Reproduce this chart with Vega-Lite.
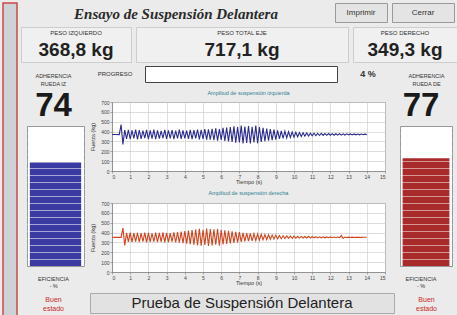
{
"$schema":"https://vega.github.io/schema/vega-lite/v6.json",
"background":"#ebebeb",
"padding":{"left":2,"top":2,"right":2,"bottom":0},
"datasets":{"signal":[
{"t":0,"l":370,"r":352},{"t":0.2,"l":371,"r":351},{"t":0.4,"l":369,"r":353},
{"t":0.5,"l":470,"r":352},{"t":0.6,"l":270,"r":445},{"t":0.7,"l":415,"r":270},{"t":0.8,"l":326,"r":396},{"t":0.9,"l":418,"r":306},{"t":1.0,"l":322,"r":399},{"t":1.1,"l":412,"r":303},{"t":1.2,"l":330,"r":394},{"t":1.3,"l":420,"r":309},{"t":1.4,"l":321,"r":398},
{"t":1.5,"l":414,"r":302},{"t":1.6,"l":327,"r":395},{"t":1.7,"l":410,"r":307},{"t":1.8,"l":333,"r":400},{"t":1.9,"l":417,"r":301},{"t":2.0,"l":324,"r":397},{"t":2.1,"l":411,"r":305},{"t":2.2,"l":329,"r":393},{"t":2.3,"l":419,"r":308},{"t":2.4,"l":322,"r":399},
{"t":2.5,"l":413,"r":304},{"t":2.6,"l":328,"r":396},{"t":2.7,"l":408,"r":306},{"t":2.8,"l":334,"r":401},{"t":2.9,"l":418,"r":300},{"t":3.0,"l":326,"r":398},{"t":3.1,"l":412,"r":304},{"t":3.2,"l":331,"r":395},{"t":3.3,"l":416,"r":309},{"t":3.4,"l":323,"r":402},
{"t":3.5,"l":410,"r":299},{"t":3.6,"l":330,"r":404},{"t":3.7,"l":419,"r":297},{"t":3.8,"l":325,"r":410},{"t":3.9,"l":413,"r":292},{"t":4.0,"l":332,"r":415},{"t":4.1,"l":409,"r":288},{"t":4.2,"l":327,"r":420},{"t":4.3,"l":417,"r":283},{"t":4.4,"l":323,"r":425},
{"t":4.5,"l":414,"r":278},{"t":4.6,"l":330,"r":430},{"t":4.7,"l":421,"r":272},{"t":4.8,"l":321,"r":437},{"t":4.9,"l":417,"r":268},{"t":5.0,"l":326,"r":428},{"t":5.1,"l":425,"r":275},{"t":5.2,"l":318,"r":440},{"t":5.3,"l":422,"r":265},{"t":5.4,"l":319,"r":436},
{"t":5.5,"l":428,"r":270},{"t":5.6,"l":312,"r":432},{"t":5.7,"l":433,"r":276},{"t":5.8,"l":308,"r":438},{"t":5.9,"l":424,"r":266},{"t":6.0,"l":315,"r":428},{"t":6.1,"l":437,"r":280},{"t":6.2,"l":304,"r":422},{"t":6.3,"l":441,"r":285},{"t":6.4,"l":299,"r":418},
{"t":6.5,"l":446,"r":290},{"t":6.6,"l":295,"r":412},{"t":6.7,"l":453,"r":295},{"t":6.8,"l":287,"r":408},{"t":6.9,"l":447,"r":300},{"t":7.0,"l":291,"r":404},{"t":7.1,"l":460,"r":305},{"t":7.2,"l":280,"r":398},{"t":7.3,"l":451,"r":310},{"t":7.4,"l":285,"r":395},
{"t":7.5,"l":457,"r":313},{"t":7.6,"l":279,"r":392},{"t":7.7,"l":449,"r":316},{"t":7.8,"l":289,"r":388},{"t":7.9,"l":462,"r":320},{"t":8.0,"l":283,"r":385},{"t":8.1,"l":446,"r":323},{"t":8.2,"l":294,"r":382},{"t":8.3,"l":438,"r":326},{"t":8.4,"l":302,"r":380},
{"t":8.5,"l":431,"r":329},{"t":8.6,"l":307,"r":377},{"t":8.7,"l":425,"r":332},{"t":8.8,"l":314,"r":374},{"t":8.9,"l":420,"r":334},{"t":9.0,"l":318,"r":372},{"t":9.1,"l":413,"r":336},{"t":9.2,"l":325,"r":370},{"t":9.3,"l":408,"r":338},{"t":9.4,"l":331,"r":368},
{"t":9.5,"l":404,"r":340},{"t":9.6,"l":336,"r":366},{"t":9.7,"l":400,"r":341},{"t":9.8,"l":340,"r":365},{"t":9.9,"l":396,"r":342},{"t":10.0,"l":344,"r":364},{"t":10.1,"l":393,"r":343},{"t":10.2,"l":347,"r":362},{"t":10.3,"l":390,"r":344},{"t":10.4,"l":350,"r":361},
{"t":10.5,"l":388,"r":345},{"t":10.6,"l":353,"r":360},{"t":10.7,"l":386,"r":345},{"t":10.8,"l":355,"r":362},{"t":10.9,"l":384,"r":344},{"t":11.0,"l":357,"r":360},{"t":11.1,"l":383,"r":346},{"t":11.2,"l":358,"r":358},{"t":11.3,"l":382,"r":346},{"t":11.4,"l":360,"r":357},
{"t":11.5,"l":381,"r":347},{"t":11.6,"l":361,"r":357},{"t":11.7,"l":380,"r":347},{"t":11.8,"l":362,"r":356},{"t":11.9,"l":380,"r":348},{"t":12.0,"l":363,"r":356},{"t":12.1,"l":379,"r":348},{"t":12.2,"l":363,"r":355},{"t":12.3,"l":378,"r":348},{"t":12.4,"l":364,"r":355},
{"t":12.5,"l":378,"r":349},{"t":12.6,"l":364,"r":370},{"t":12.7,"l":377,"r":340},{"t":12.8,"l":365,"r":355},{"t":12.9,"l":377,"r":349},{"t":13.0,"l":366,"r":354},{"t":13.1,"l":376,"r":350},{"t":13.2,"l":366,"r":354},{"t":13.3,"l":376,"r":350},{"t":13.4,"l":367,"r":353},
{"t":13.5,"l":375,"r":351},{"t":13.6,"l":367,"r":353},{"t":13.7,"l":375,"r":351},{"t":13.8,"l":368,"r":352},{"t":13.9,"l":374,"r":352},{"t":14.0,"l":369,"r":352}
]},
"spacing":2,
"hconcat":[
 {"width":14,"height":320,"data":{"values":[{"s":""}]},"mark":"text","encoding":{"text":{"field":"s"}},"view":{"fill":"#cdd2d7","stroke":"#d04848","strokeWidth":1.5}},
 {"spacing":2,"vconcat":[
 {"spacing":3,"hconcat":[
  {"width":310,"height":21,"data":{"values":[{"s":"Ensayo de Suspensión Delantera"}]},"mark":{"type":"text","font":"Liberation Serif","fontStyle":"italic","fontWeight":"bold","fontSize":15,"color":"#2a2a2a"},"encoding":{"text":{"field":"s"}}},
  {"width":52,"height":19,"data":{"values":[{"s":"Imprimir"}]},"mark":{"type":"text","fontSize":8,"color":"#333"},"encoding":{"text":{"field":"s"}},"view":{"fill":"#e4e4e4","stroke":"#9a9a9a"}},
  {"width":62,"height":19,"data":{"values":[{"s":"Cerrar"}]},"mark":{"type":"text","fontSize":8,"color":"#333"},"encoding":{"text":{"field":"s"}},"view":{"fill":"#e4e4e4","stroke":"#9a9a9a"}}
 ]},
 {"spacing":3,"hconcat":[
  {"width":110,"height":35,"data":{"values":[{"k":"a","s":"PESO IZQUIERDO"},{"k":"b","s":"368,8 kg"}]},"view":{"fill":"#f0f0f0","stroke":"#cdcdcd"},
   "layer":[
    {"transform":[{"filter":"datum.k=='a'"}],"mark":{"type":"text","fontSize":6,"color":"#333"},"encoding":{"text":{"field":"s"},"y":{"field":"k","type":"nominal","scale":{"domain":["a","b"],"range":[6,23],"padding":0},"axis":null}}},
    {"transform":[{"filter":"datum.k=='b'"}],"mark":{"type":"text","fontSize":19,"fontWeight":"bold","color":"#222"},"encoding":{"text":{"field":"s"},"y":{"field":"k","type":"nominal","scale":{"domain":["a","b"],"range":[6,23],"padding":0},"axis":null}}}
   ]},
  {"width":212,"height":35,"data":{"values":[{"k":"a","s":"PESO TOTAL EJE"},{"k":"b","s":"717,1 kg"}]},"view":{"fill":"#f0f0f0","stroke":"#cdcdcd"},
   "layer":[
    {"transform":[{"filter":"datum.k=='a'"}],"mark":{"type":"text","fontSize":6,"color":"#333"},"encoding":{"text":{"field":"s"},"y":{"field":"k","type":"nominal","scale":{"domain":["a","b"],"range":[6,23],"padding":0},"axis":null}}},
    {"transform":[{"filter":"datum.k=='b'"}],"mark":{"type":"text","fontSize":19,"fontWeight":"bold","color":"#222"},"encoding":{"text":{"field":"s"},"y":{"field":"k","type":"nominal","scale":{"domain":["a","b"],"range":[6,23],"padding":0},"axis":null}}}
   ]},
  {"width":104,"height":35,"data":{"values":[{"k":"a","s":"PESO DERECHO"},{"k":"b","s":"349,3 kg"}]},"view":{"fill":"#f0f0f0","stroke":"#cdcdcd"},
   "layer":[
    {"transform":[{"filter":"datum.k=='a'"}],"mark":{"type":"text","fontSize":6,"color":"#333"},"encoding":{"text":{"field":"s"},"y":{"field":"k","type":"nominal","scale":{"domain":["a","b"],"range":[6,23],"padding":0},"axis":null}}},
    {"transform":[{"filter":"datum.k=='b'"}],"mark":{"type":"text","fontSize":19,"fontWeight":"bold","color":"#222"},"encoding":{"text":{"field":"s"},"y":{"field":"k","type":"nominal","scale":{"domain":["a","b"],"range":[6,23],"padding":0},"axis":null}}}
   ]}
 ]},
 {"spacing":3,"hconcat":[
  {"width":65,"height":16,"data":{"values":[{"s":"ADHERENCIA\nRUEDA IZ"}]},"mark":{"type":"text","fontSize":5.5,"lineBreak":"\n","baseline":"top","color":"#333"},"encoding":{"text":{"field":"s"}}},
  {"width":52,"height":16,"data":{"values":[{"s":"PROGRESO"}]},"mark":{"type":"text","fontSize":6,"color":"#333"},"encoding":{"text":{"field":"s"}}},
  {"width":192,"height":16,"data":{"values":[{"p":4}]},"mark":{"type":"bar","color":"#d83030"},"view":{"fill":"#ffffff","stroke":"#444444"},"encoding":{"x":{"field":"p","type":"quantitative","scale":{"domain":[0,100]},"axis":null}}},
  {"width":54,"height":16,"data":{"values":[{"s":"4 %"}]},"mark":{"type":"text","fontSize":9,"fontWeight":"bold","color":"#333"},"encoding":{"text":{"field":"s"}}},
  {"width":57,"height":16,"data":{"values":[{"s":"ADHERENCIA\nRUEDA DE"}]},"mark":{"type":"text","fontSize":5.5,"lineBreak":"\n","baseline":"top","color":"#333"},"encoding":{"text":{"field":"s"}}}
 ]},
 {"spacing":3,"hconcat":[
  {"spacing":2,"vconcat":[
   {"width":65,"height":34,"data":{"values":[{"s":"74"}]},"mark":{"type":"text","fontSize":33,"fontWeight":"bold","color":"#1a1a1a"},"encoding":{"text":{"field":"s"}}},
   {"spacing":3,"hconcat":[
    {"width":2,"height":140,"data":{"values":[{"s":""}]},"mark":"text","encoding":{"text":{"field":"s"}}},
    {"width":57,"height":140,"data":{"values":[{"v":74}]},"mark":{"type":"bar","color":"#3a3aa2"},"view":{"fill":"#ffffff","stroke":"#999999"},
     "encoding":{"y":{"field":"v","type":"quantitative","scale":{"domain":[0,100],"nice":false},"axis":{"orient":"right","title":null,"labels":false,"ticks":false,"domain":false,"grid":true,"gridColor":"#ffffff","gridOpacity":0.55,"gridWidth":1.2,"values":[5,10,15,20,25,30,35,40,45,50,55,60,65,70,75,80,85,90,95],"zindex":1,"minExtent":0,"maxExtent":0}}}}
   ]},
   {"width":65,"height":15,"data":{"values":[{"s":"EFICIENCIA\n- %"}]},"mark":{"type":"text","fontSize":5.5,"lineBreak":"\n","baseline":"top","color":"#333"},"encoding":{"text":{"field":"s"}}}
  ]},
  {"spacing":2,"vconcat":[
   {"width":273,"height":8,"data":{"values":[{"s":"Amplitud de suspensión izquierda"}]},"mark":{"type":"text","fontSize":5.5,"color":"#2f7f8f"},"encoding":{"text":{"field":"s"}}},
   {"width":273,"height":69,"data":{"name":"signal"},"view":{"fill":"#ffffff","stroke":"#aaaaaa"},
    "mark":{"type":"line","strokeWidth":1.1,"color":"#2b2b90"},
    "encoding":{"x":{"field":"t","type":"quantitative","scale":{"domain":[0,15],"nice":false},"axis":{"title":"Tiempo (s)","values":[0,1,2,3,4,5,6,7,8,9,10,11,12,13,14,15],"minExtent":8,"maxExtent":8,"titlePadding":0.5}},
     "y":{"field":"l","type":"quantitative","scale":{"domain":[0,700],"nice":false},"axis":{"title":"Fuerza (kg)","values":[0,100,200,300,400,500,600,700],"minExtent":14,"maxExtent":14,"titlePadding":3}}}},
   {"width":273,"height":10,"data":{"values":[{"s":"Amplitud de suspensión derecha"}]},"mark":{"type":"text","fontSize":5.5,"color":"#2f7f8f"},"encoding":{"text":{"field":"s"}}},
   {"width":273,"height":69,"data":{"name":"signal"},"view":{"fill":"#ffffff","stroke":"#aaaaaa"},
    "mark":{"type":"line","strokeWidth":1.1,"color":"#d2441e"},
    "encoding":{"x":{"field":"t","type":"quantitative","scale":{"domain":[0,15],"nice":false},"axis":{"title":"Tiempo (s)","values":[0,1,2,3,4,5,6,7,8,9,10,11,12,13,14,15],"minExtent":8,"maxExtent":8,"titlePadding":0.5}},
     "y":{"field":"r","type":"quantitative","scale":{"domain":[0,700],"nice":false},"axis":{"title":"Fuerza (kg)","values":[0,100,200,300,400,500,600,700],"minExtent":14,"maxExtent":14,"titlePadding":3}}}}
  ]},
  {"spacing":2,"vconcat":[
   {"width":64,"height":34,"data":{"values":[{"s":"77"}]},"mark":{"type":"text","fontSize":33,"fontWeight":"bold","color":"#1a1a1a"},"encoding":{"text":{"field":"s"}}},
   {"spacing":3,"hconcat":[
    {"width":7,"height":140,"data":{"values":[{"s":""}]},"mark":"text","encoding":{"text":{"field":"s"}}},
    {"width":52,"height":140,"data":{"values":[{"v":77}]},"mark":{"type":"bar","color":"#a82a2a"},"view":{"fill":"#ffffff","stroke":"#999999"},
     "encoding":{"y":{"field":"v","type":"quantitative","scale":{"domain":[0,100],"nice":false},"axis":{"orient":"right","title":null,"labels":false,"ticks":false,"domain":false,"grid":true,"gridColor":"#ffffff","gridOpacity":0.5,"gridWidth":1.2,"values":[5,10,15,20,25,30,35,40,45,50,55,60,65,70,75,80,85,90,95],"zindex":1,"minExtent":0,"maxExtent":0}}}}
   ]},
   {"width":64,"height":15,"data":{"values":[{"s":"EFICIENCIA\n- %"}]},"mark":{"type":"text","fontSize":5.5,"lineBreak":"\n","baseline":"top","color":"#333"},"encoding":{"text":{"field":"s"}}}
  ]}
 ]},
 {"spacing":3,"hconcat":[
  {"width":65,"height":6,"data":{"values":[{"s":"Buen\nestado"}]},"mark":{"type":"text","fontSize":7,"lineBreak":"\n","baseline":"top","color":"#c82828"},"encoding":{"text":{"field":"s"}}},
  {"width":304,"height":20,"data":{"values":[{"s":"Prueba de Suspensión Delantera"}]},"mark":{"type":"text","fontSize":15,"color":"#222"},"view":{"fill":"#e2e2e2","stroke":"#aaaaaa"},"encoding":{"text":{"field":"s"}}},
  {"width":57,"height":6,"data":{"values":[{"s":"Buen\nestado"}]},"mark":{"type":"text","fontSize":7,"lineBreak":"\n","baseline":"top","color":"#c82828"},"encoding":{"text":{"field":"s"}}}
 ]}
 ]}
],
"config":{"font":"Liberation Sans","view":{"stroke":null},
 "axis":{"labelFontSize":5,"titleFontSize":5.5,"titleFontWeight":"normal","labelColor":"#444","titleColor":"#333","tickSize":2,"labelPadding":1,"gridColor":"#c8c8c8","gridWidth":0.6,"domainColor":"#777","tickColor":"#777","domainWidth":0.6,"tickWidth":0.6}}
}
